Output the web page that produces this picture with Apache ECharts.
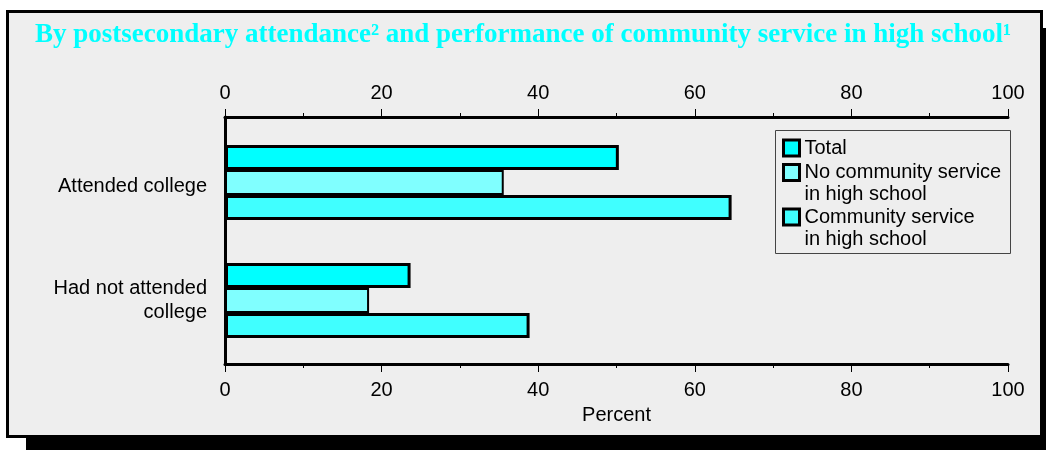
<!DOCTYPE html>
<html>
<head>
<meta charset="utf-8">
<script src="https://cdn.jsdelivr.net/npm/echarts@6/dist/echarts.min.js"></script>
<style>
html,body{margin:0;padding:0;background:#fff;}
#chart{width:1046px;height:450px;}
</style>
</head>
<body>
<div id="chart"></div>
<script>
const titleText = 'By postsecondary attendance\u00B2 and performance of community service in high school\u00B9';
const categories = ['Attended college', 'Had not attended\ncollege'];
const seriesNames = ['Total', 'No community service\nin high school', 'Community service\nin high school'];
const totalValues = [50.3, 23.7];
const noServiceValues = [35.6, 18.4];
const serviceValues = [64.7, 38.9];
const axisMin = 0;
const axisMax = 100;
const axisStep = 20;
const axisName = 'Percent';

const colors = ['#00FFFF', '#80FFFF', '#40FFFF'];
const FONT = 'Liberation Sans';

const chart = echarts.init(document.getElementById('chart'), null, {renderer: 'canvas'});

function valueAxis(pos, margin) {
  return {
    type: 'value', gridIndex: 1, position: pos, min: axisMin, max: axisMax, interval: axisStep,
    axisLine: {show: true, onZero: false, lineStyle: {color: '#000', width: 3}},
    axisTick: {show: true, length: 8, lineStyle: {color: '#000', width: 1}},
    minorTick: {show: true, splitNumber: 2, length: 4, lineStyle: {color: '#000', width: 1}},
    splitLine: {show: false},
    minorSplitLine: {show: false},
    axisLabel: {fontFamily: FONT, fontSize: 20, color: '#000', margin: margin}
  };
}

const bottomAxis = valueAxis('bottom', 16);
bottomAxis.name = axisName;
bottomAxis.nameLocation = 'middle';
bottomAxis.nameGap = 41;
bottomAxis.nameTextStyle = {fontFamily: FONT, fontSize: 20, color: '#000'};
const topAxis = valueAxis('top', 14);

const barAxis = {
  type: 'value', gridIndex: 0, min: axisMin, max: axisMax, interval: axisStep, show: false
};

const values = [totalValues, noServiceValues, serviceValues];
const borderWidths = [3, 2, 3];
const series = seriesNames.map((n, i) => ({
  name: n, type: 'bar', xAxisIndex: 0, yAxisIndex: 0,
  data: values[i], barWidth: 25, barGap: '0%',
  itemStyle: {color: colors[i], borderColor: '#000', borderWidth: borderWidths[i]},
  emphasis: {disabled: true}
}));

const twoLineIcon = 'path://M0,0H16V16H0Z M0,38';
function legendFor(i, top, twoLine) {
  return {
    data: [{name: seriesNames[i], icon: twoLine ? twoLineIcon : 'rect'}],
    left: 782, top: top, padding: 0, orient: 'vertical',
    itemWidth: 16, itemHeight: twoLine ? 38 : 16,
    symbolKeepAspect: false,
    itemStyle: {borderColor: '#000', borderWidth: 3},
    textStyle: {fontFamily: FONT, fontSize: 20, color: '#000', lineHeight: 22},
    selectedMode: false
  };
}

const option = {
  animation: false,
  backgroundColor: '#ffffff',
  title: {
    text: titleText, left: 'center', top: 17,
    textStyle: {fontFamily: 'Liberation Serif', fontWeight: 'bold', fontSize: 27, color: '#00FFFF'}
  },
  graphic: [
    {type: 'rect', z: -10, shape: {x: 26, y: 28, width: 1020, height: 422}, style: {fill: '#000'}, silent: true},
    {type: 'rect', z: -9, shape: {x: 7.5, y: 11.5, width: 1034, height: 425}, style: {fill: '#EEEEEE', stroke: '#000', lineWidth: 3}, silent: true},
    {type: 'rect', z: 5, shape: {x: 775.5, y: 130.5, width: 235, height: 123}, style: {fill: 'none', stroke: '#444', lineWidth: 1}, silent: true}
  ],
  legend: [legendFor(0, 137, false), legendFor(1, 161.5, true), legendFor(2, 206, true)],
  grid: [
    {left: 225, right: 38, top: 123.5, bottom: 90.5, containLabel: false},
    {left: 225, right: 38, top: 117, bottom: 86, containLabel: false}
  ],
  xAxis: [barAxis, bottomAxis, topAxis],
  yAxis: [
    {
      type: 'category', gridIndex: 0, data: categories, inverse: true,
      axisLine: {show: false},
      axisTick: {show: false},
      axisLabel: {
        fontFamily: FONT, fontSize: 20, color: '#000', margin: 18, lineHeight: 24, align: 'right',
        formatter: function (v) { return v === categories[0] ? '{p|' + v + '}' : v; },
        rich: {p: {fontFamily: FONT, fontSize: 20, color: '#000', lineHeight: 24, padding: [8, 0, 0, 0]}}
      }
    },
    {
      type: 'category', gridIndex: 1, data: categories, inverse: true,
      axisLine: {show: true, lineStyle: {color: '#000', width: 3}},
      axisTick: {show: false},
      axisLabel: {show: false}
    }
  ],
  series: series
};
chart.setOption(option);
</script>
</body>
</html>
